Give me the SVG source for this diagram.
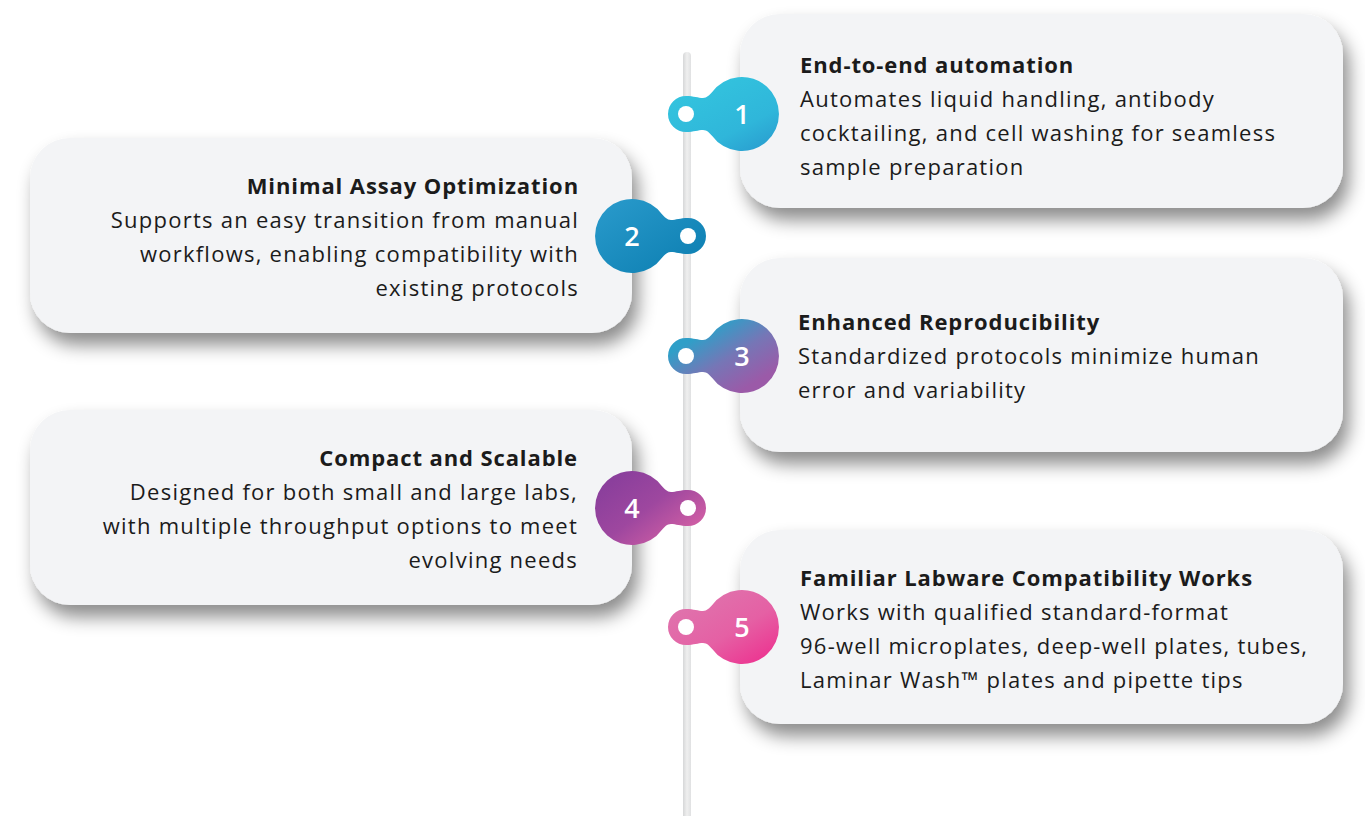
<svg xmlns="http://www.w3.org/2000/svg" width="1365" height="816" viewBox="0 0 1365 816">
  <defs>
    <style>
      .card { fill: #f3f4f6; filter: url(#sh); }
      .t { font-family: "Open Sans", "Noto Sans", sans-serif; font-size: 22px; fill: #1b1b1b; letter-spacing: 1.25px; }
      .b { font-weight: 700; letter-spacing: 0.9px; }
      .r { text-anchor: end; }
      .num { font-family: "Open Sans", sans-serif; font-size: 27px; font-weight: 600; fill: #ffffff; text-anchor: middle; }
      .hole { fill: #ffffff; }
    </style>
    <filter id="sh" x="-10%" y="-20%" width="125%" height="150%">
      <feDropShadow dx="6" dy="12" stdDeviation="9" flood-color="#000000" flood-opacity="0.45"/>
    </filter>
    <linearGradient id="line" x1="0" y1="0" x2="1" y2="0">
      <stop offset="0" stop-color="#d6d7d8"/>
      <stop offset="0.5" stop-color="#efefef"/>
      <stop offset="1" stop-color="#e0e1e2"/>
    </linearGradient>
    <linearGradient id="g1" x1="0.3" y1="0.1" x2="1" y2="1">
      <stop offset="0" stop-color="#33c3de"/>
      <stop offset="0.6" stop-color="#2fb6da"/>
      <stop offset="1" stop-color="#2898cd"/>
    </linearGradient>
    <linearGradient id="g2" x1="1" y1="0" x2="0" y2="1">
      <stop offset="0" stop-color="#2a9bcc"/>
      <stop offset="1" stop-color="#0b7db0"/>
    </linearGradient>
    <linearGradient id="g3" x1="0.3" y1="0.2" x2="0.85" y2="0.8">
      <stop offset="0" stop-color="#2f9fc8"/>
      <stop offset="0.5" stop-color="#7676b6"/>
      <stop offset="1" stop-color="#9b5aa8"/>
    </linearGradient>
    <linearGradient id="g4" x1="0.9" y1="0.2" x2="0.1" y2="0.9">
      <stop offset="0" stop-color="#8b3f9c"/>
      <stop offset="0.45" stop-color="#9e479f"/>
      <stop offset="1" stop-color="#d862a5"/>
    </linearGradient>
    <linearGradient id="g5" x1="0.2" y1="0.1" x2="1" y2="1">
      <stop offset="0" stop-color="#df74ad"/>
      <stop offset="0.5" stop-color="#e560a4"/>
      <stop offset="1" stop-color="#ee2a8c"/>
    </linearGradient>
    <path id="pin" d="M 0,-18 C 8,-18 12,-16 17,-16 C 21,-16 23.5,-19 26,-21.7 A 37 37 0 1 1 26,21.7 C 23.5,19 21,16 17,16 C 12,16 8,18 0,18 A 18 18 0 0 1 0,-18 Z"/>
  </defs>

  <rect width="1365" height="816" fill="#ffffff"/>

  <g id="connectors">
    <rect x="683" y="52" width="8" height="800" rx="4" fill="url(#line)"/>
  </g>

  <g id="card1">
    <rect class="card" x="740" y="14" width="603" height="194" rx="40"/>
    <text class="t b" x="800" y="73">End-to-end automation</text>
    <text class="t" x="800" y="107">Automates liquid handling, antibody</text>
    <text class="t" x="800" y="141">cocktailing, and cell washing for seamless</text>
    <text class="t" x="800" y="175">sample preparation</text>
  </g>
  <g id="card2">
    <rect class="card" x="30" y="138" width="602" height="195" rx="40"/>
    <text class="t b r" x="579" y="194">Minimal Assay Optimization</text>
    <text class="t r" x="579" y="228">Supports an easy transition from manual</text>
    <text class="t r" x="579" y="262">workflows, enabling compatibility with</text>
    <text class="t r" x="579" y="296">existing protocols</text>
  </g>
  <g id="card3">
    <rect class="card" x="740" y="258" width="603" height="194" rx="40"/>
    <text class="t b" x="798" y="330">Enhanced Reproducibility</text>
    <text class="t" x="798" y="364">Standardized protocols minimize human</text>
    <text class="t" x="798" y="398">error and variability</text>
  </g>
  <g id="card4">
    <rect class="card" x="30" y="410" width="602" height="195" rx="40"/>
    <text class="t b r" x="578" y="466">Compact and Scalable</text>
    <text class="t r" x="578" y="500">Designed for both small and large labs,</text>
    <text class="t r" x="578" y="534">with multiple throughput options to meet</text>
    <text class="t r" x="578" y="568">evolving needs</text>
  </g>
  <g id="card5">
    <rect class="card" x="740" y="530" width="603" height="194" rx="40"/>
    <text class="t b" x="800" y="586">Familiar Labware Compatibility Works</text>
    <text class="t" x="800" y="620">Works with qualified standard-format</text>
    <text class="t" x="800" y="654">96-well microplates, deep-well plates, tubes,</text>
    <text class="t" x="800" y="688">Laminar Wash™ plates and pipette tips</text>
  </g>

  <g id="pin1">
    <use href="#pin" transform="translate(686,114)" fill="url(#g1)"/>
    <circle class="hole" cx="686" cy="114" r="8"/>
    <text class="num" x="742" y="124">1</text>
  </g>
  <g id="pin2">
    <use href="#pin" transform="translate(688,236) scale(-1,1)" fill="url(#g2)"/>
    <circle class="hole" cx="688" cy="236" r="8"/>
    <text class="num" x="632" y="246">2</text>
  </g>
  <g id="pin3">
    <use href="#pin" transform="translate(686,356)" fill="url(#g3)"/>
    <circle class="hole" cx="686" cy="356" r="8"/>
    <text class="num" x="742" y="366">3</text>
  </g>
  <g id="pin4">
    <use href="#pin" transform="translate(688,508) scale(-1,1)" fill="url(#g4)"/>
    <circle class="hole" cx="688" cy="508" r="8"/>
    <text class="num" x="632" y="518">4</text>
  </g>
  <g id="pin5">
    <use href="#pin" transform="translate(686,627)" fill="url(#g5)"/>
    <circle class="hole" cx="686" cy="627" r="8"/>
    <text class="num" x="742" y="637">5</text>
  </g>
</svg>
